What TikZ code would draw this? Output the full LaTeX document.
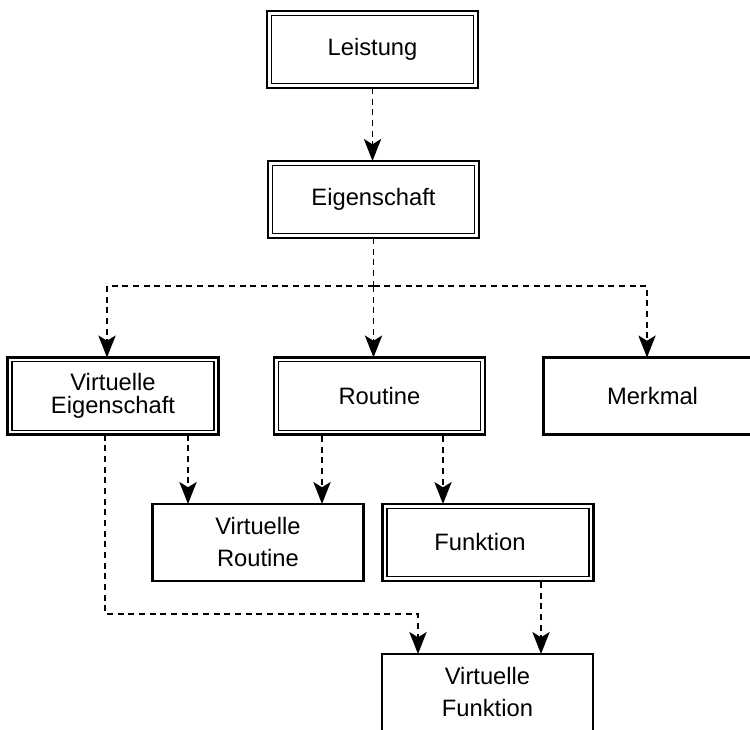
\documentclass[tikz,border=0pt]{standalone}
\usepackage{fontspec}
\setmainfont{Liberation Sans}
\usetikzlibrary{arrows.meta,calc}

\tikzset{
  box/.style={draw, line width=1.8pt, minimum width=158pt, minimum height=57.8pt,
    inner sep=0pt, outer sep=0pt, align=center,
    font=\fontsize{17.8}{24}\selectfont},
  innerline/.style={draw, line width=1pt},
  conn/.style={line width=1.1pt, dash pattern=on 4.5pt off 3.5pt,
    -{Stealth[length=16.5pt,width=13pt,inset=4pt]}},
  plainline/.style={line width=1.1pt, dash pattern=on 4.5pt off 3.5pt}
}

\begin{document}
\begin{tikzpicture}[x=0.75pt,y=-0.75pt]
  \useasboundingbox (0,0) rectangle (750,730);
  \clip (0,0) rectangle (750,730);

  % boxes
  \node[box] (L)  at (372.5,49.5)  {Leistung};
  \node[box] (E)  at (373.5,199.5) {Eigenschaft};
  \node[box, font=\fontsize{17.8}{17.5}\selectfont] (VE) at (113,396) {Virtuelle\\Eigenschaft};
  \node[box] (R)  at (379.5,396)   {Routine};
  \node[box] (M)  at (649,396)     {};
  \node[anchor=center, font=\fontsize{17.8}{24}\selectfont] (Mt) at (652.5,396) {Merkmal};
  \node[box] (VR) at (258,542.5)   {Virtuelle\\Routine};
  \node[box] (F)  at (488,542.5)   {};
  \node[anchor=center, font=\fontsize{17.8}{24}\selectfont] (Ft) at (480,542.5) {Funktion};
  \node[box] (VF) at (487.5,692.5) {Virtuelle\\Funktion};

  % inner frames of the double-bordered boxes
  \foreach \n in {L,E,VE,R,F}
    \draw[innerline] ([shift={(3.2pt,-3.2pt)}]\n.north west) rectangle ([shift={(-3.2pt,3.2pt)}]\n.south east);

  % connectors
  \coordinate (split) at (373.5,286);
  \draw[conn] (L.south) -- (L.south |- E.north);
  \draw[plainline] (E.south) -- (split);
  \draw[conn] (split) -| ($(VE.north)+(-6,0)$);
  \draw[conn] (split) -- (split |- R.north);
  \draw[conn] (split) -| ($(M.north)+(-2,0)$);

  \coordinate (vea) at ($(VE.south)+(75,0)$);
  \draw[conn] (vea) -- (vea |- VR.north);
  \coordinate (veb) at ($(VE.south)+(-8,0)$);
  \coordinate (vfa) at ($(VF.north)+(-69.5,0)$);
  \draw[conn] (veb) |- ($(vfa)+(0,-40)$) -- (vfa);

  \coordinate (ra) at (322,436);
  \draw[conn] (ra) -- (ra |- VR.north);
  \coordinate (rb) at (443,436);
  \draw[conn] (rb) -- (rb |- F.north);

  \coordinate (fa) at (541,582);
  \draw[conn] (fa) -- (fa |- VF.north);
\end{tikzpicture}
\end{document}
